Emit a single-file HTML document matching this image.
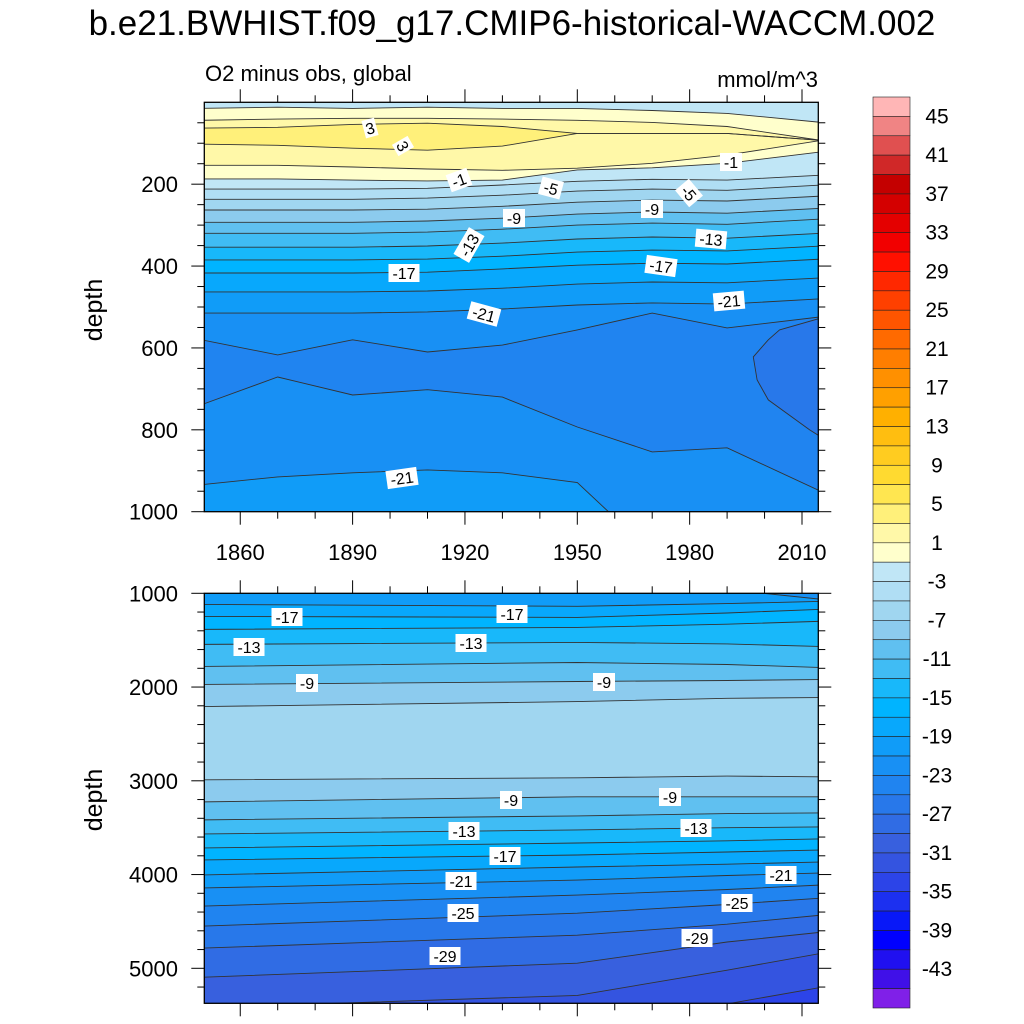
<!DOCTYPE html>
<html><head><meta charset="utf-8"><style>
html,body{margin:0;padding:0;background:#fff;}
svg{display:block;font-family:"Liberation Sans",sans-serif;}
</style></head><body>
<svg id="chart" width="1024" height="1024" viewBox="0 0 1024 1024" xmlns="http://www.w3.org/2000/svg">
<text x="512" y="35" font-size="35" text-anchor="middle">b.e21.BWHIST.f09_g17.CMIP6-historical-WACCM.002</text>
<text x="205" y="81" font-size="22">O2 minus obs, global</text>
<text x="818" y="87" font-size="22" text-anchor="end">mmol/m^3</text>
<text x="0" y="0" font-size="25" text-anchor="middle" transform="translate(102,310) rotate(-90)">depth</text>
<text x="0" y="0" font-size="25" text-anchor="middle" transform="translate(102,800) rotate(-90)">depth</text>
<defs>
<clipPath id="clipTop"><rect x="204.3" y="102.3" width="614" height="409.4"/></clipPath>
<clipPath id="clipBot"><rect x="204.3" y="593.3" width="614" height="410"/></clipPath>
</defs>
<g id="topPanel" clip-path="url(#clipTop)"></g>
<g id="botPanel" clip-path="url(#clipBot)"></g>
<g id="axes"></g>
<g id="labels"></g>
<g id="colorbar"></g>
</svg>
<script>
// ---- colour bins (top to bottom of colorbar) ----
const binColors = ["#ffb6b6","#f08484","#e05050","#d02828","#c40000","#d40000","#e40000","#f20000","#ff1000","#ff2800","#ff4000","#ff5500","#ff6a00","#ff7e00","#ff9000","#ffa000","#ffb000","#ffbe10","#ffcc20","#ffda30","#ffe650","#fff07a","#fff8a8","#ffffcc",
"#c0e6f6","#b0def4","#a0d6f0","#8ccbee","#60c0f0","#40bcf4","#18b8fa","#00b4ff","#08a8fc","#109cf8","#1890f4","#2084f0","#2878ea","#306ce4","#3860de","#3454e0","#2c44e8","#1c30f0","#0818f8","#0000ff","#2010f0","#4010e8","#8020e8"];
const cbarLabels = ["45","41","37","33","29","25","21","17","13","9","5","1","-3","-7","-11","-15","-19","-23","-27","-31","-35","-39","-43"];

// ---- top panel (0-1000 m) contour depths per year ----
const topYears = [1850,1870,1890,1910,1930,1950,1970,1990,2014];
const topTopBin = 24;
const topLevels = ["-1","1","3","3","1","-1","-3","-5","-7","-9","-11","-13","-15","-17","-19","-21","-23","-23","-21"];
const topBinBelow = [23,22,21,22,23,24,25,26,27,28,29,30,31,32,33,34,35,34,33];
const topLineM1a = [15,12,15,12,15,15,20,27,49];
const topLineP1a = [44,41,39,39,41,44,49,59,93];
const topLineP3a = [63,61,54,51,59,76,76,76,93];
const topLineP3b = [102,105,112,117,107,76,76,76,93];
const topLineP1b = [154,154,158,163,166,161,149,129,93];
const topLineM1 = [187,187,190,192,190,165,160,149,121];
const topLineM3 = [212,212,212,210,202,193,188,190,178];
const topLineM5 = [237,237,237,234,227,217,212,215,202];
const topLineM7 = [263,263,263,261,254,244,239,241,229];
const topLineM9 = [293,293,293,290,283,273,268,271,259];
const topLineM11 = [320,320,320,317,310,300,295,298,285];
const topLineM13 = [354,354,354,351,344,334,329,332,320];
const topLineM15 = [385,385,385,383,376,366,361,363,351];
const topLineM17 = [417,417,417,415,407,398,393,395,383];
const topLineM19 = [463,463,463,461,454,444,439,441,429];
const topLineM21 = [515,515,515,512,505,495,490,493,480];
const topLineM23a = [580,617,580,610,593,556,515,551,524];
const topLineM23b = [739,671,715,702,720,793,854,844,951];
const topLineM21b = [934,915,905,898,905,929,1100,1100,1100];
const topLines = [topLineM1a,topLineP1a,topLineP3a,topLineP3b,topLineP1b,topLineM1,topLineM3,topLineM5,topLineM7,topLineM9,topLineM11,topLineM13,topLineM15,topLineM17,topLineM19,topLineM21,topLineM23a,topLineM23b,topLineM21b];
// closed -25 region at right
const regionYears = [2004,2001,1997,1998,2001,2012,2015,2015];
const regionDepths = [556,580,622,678,727,800,817,527];
const regionBin = 36;

// ---- bottom panel (1000-5374 m) ----
const botYears = [1850,1950,1990,2014];
const botTopBin = 34;
const botLevels = ["-21","-19","-17","-15","-13","-11","-9","-7","-7","-9","-11","-13","-15","-17","-19","-21","-23","-25","-27","-29","-31","-33"];
const botBinBelow = [33,32,31,30,29,28,27,26,27,28,29,30,31,32,33,34,35,36,37,38,39,40];
const botLines = [
 [900,900,960,1064],
 [1118,1139,1110,1086],
 [1246,1257,1210,1171],
 [1385,1364,1330,1299],
 [1545,1524,1540,1567],
 [1781,1738,1760,1791],
 [1973,1941,1930,1920],
 [2209,2155,2120,2112],
 [2989,2968,2950,2957],
 [3225,3171,3171,3171],
 [3417,3374,3350,3342],
 [3567,3524,3500,3492],
 [3717,3663,3640,3620],
 [3845,3791,3760,3738],
 [4005,3920,3890,3866],
 [4144,4059,4010,3984],
 [4337,4219,4160,4112],
 [4551,4412,4320,4251],
 [4786,4647,4530,4433],
 [5096,4946,4720,4615],
 [5420,5289,5020,4840],
 [5700,5500,5380,5203]
];

// ---- ticks ----
const xTickYears = [1860,1890,1920,1950,1980,2010];
const topDepthTicks = [200,400,600,800,1000];
const botDepthTicks = [1000,2000,3000,4000,5000];

// ---- contour label annotations [text, x, y, angle] ----
const contourLabels = [
 ["3",370,128,-15],["3",403,146,60],["-1",459,180,-20],["-5",551,188,15],["-1",731,162,0],["-5",689,193,50],
 ["-9",514,218,0],["-9",652,209,0],["-13",469,245,-60],["-13",711,239,5],["-17",404,273,0],["-17",661,266,8],
 ["-21",484,314,15],["-21",729,301,-5],["-21",402,478,-8],
 ["-17",287,617,0],["-17",512,614,0],["-13",249,647,0],["-13",471,643,0],["-9",307,683,0],["-9",604,682,0],
 ["-9",511,800,0],["-9",670,797,0],["-13",464,831,0],["-13",696,828,0],["-17",505,856,0],["-21",461,881,0],
 ["-21",781,875,0],["-25",463,913,0],["-25",737,903,0],["-29",445,956,0],["-29",697,938,0]
];

const NS="http://www.w3.org/2000/svg";
const X0=204.3, X1=818.3, Y0T=102.3, Y1T=511.7, Y0B=593.3, Y1B=1003.3;
function xScale(yr){ return X0 + (yr-1850.4)*3.745; }
function yTop(d){ return Y0T + d*0.4094; }
function yBot(d){ return Y0B + (d-1000)*0.09375; }
function mk(tag, attrs, parent){ const e=document.createElementNS(NS,tag); for(const k in attrs) e.setAttribute(k,attrs[k]); parent.appendChild(e); return e; }

function drawPanel(g, years, lines, bins, topBin, levels, yfun, yTopPx, yBotPx, prefix){
  const bg = mk('rect',{x:X0-5,y:yTopPx-5,width:X1-X0+10,height:yBotPx-yTopPx+10,fill:binColors[topBin]},g);
  
  
  const xs = years.map(xScale);
  xs[0]=Math.min(xs[0],X0-3); xs[xs.length-1]=Math.max(xs[xs.length-1],X1+3);
  lines.forEach((ln,i)=>{
    let pts = ln.map((d,j)=>xs[j].toFixed(1)+','+yfun(d).toFixed(1)).join(' ');
    pts += ' '+xs[xs.length-1].toFixed(1)+','+(yBotPx+20)+' '+xs[0].toFixed(1)+','+(yBotPx+20);
    const p = mk('polygon',{points:pts,fill:binColors[bins[i]]},g);
    
    
  });
  return xs;
}
function strokePanel(g, xs, lines, yfun, levels, prefix){
  lines.forEach((ln,i)=>{
    const pts = ln.map((d,j)=>xs[j].toFixed(1)+','+yfun(d).toFixed(1)).join(' ');
    const l = mk('polyline',{points:pts,fill:'none',stroke:'#333',"stroke-width":0.9},g);
    
    
  });
}

const topG=document.getElementById('topPanel');
const xsT = drawPanel(topG, topYears, topLines, topBinBelow, topTopBin, topLevels, yTop, Y0T, Y1T, 'top');
const reg = mk('polygon',{points:regionYears.map((yr,i)=>xScale(yr).toFixed(1)+','+yTop(regionDepths[i]).toFixed(1)).join(' '),fill:binColors[regionBin],stroke:'#333',"stroke-width":0.9},topG);


strokePanel(topG, xsT, topLines, yTop, topLevels, 'top');

const botG=document.getElementById('botPanel');
const xsB = drawPanel(botG, botYears, botLines, botBinBelow, botTopBin, botLevels, yBot, Y0B, Y1B, 'bottom');
strokePanel(botG, xsB, botLines, yBot, botLevels, 'bottom');

// ---- axes ----
const ax=document.getElementById('axes');
function frame(y0,y1,name){
  const r=mk('rect',{x:X0,y:y0,width:X1-X0,height:y1-y0,fill:'none',stroke:'#000',"stroke-width":1.3},ax);
  
  
}
frame(Y0T,Y1T,'top-plot-frame');
frame(Y0B,Y1B,'bottom-plot-frame');
function line(x1,y1,x2,y2,w){ const l=mk('line',{x1:x1,y1:y1,x2:x2,y2:y2,stroke:'#000',"stroke-width":w||1},ax);   }
for(let yr=1860; yr<=2014; yr+=10){
  const x=xScale(yr); const major = xTickYears.includes(yr); const L = major?13:7;
  line(x,Y0T,x,Y0T-L); line(x,Y1T,x,Y1T+L); line(x,Y0B,x,Y0B-L); line(x,Y1B,x,Y1B+L);
}
xTickYears.forEach(yr=>{
  const t=mk('text',{x:xScale(yr),y:560,"font-size":22,"text-anchor":"middle"},ax);
  t.textContent=yr;
  
  
});
for(let d=50; d<=1000; d+=50){
  const y=yTop(d); const major=topDepthTicks.includes(d); const L=major?13:7;
  line(X0,y,X0-L,y); line(X1,y,X1+L,y);
}
topDepthTicks.forEach(d=>{
  const t=mk('text',{x:178,y:yTop(d)+8,"font-size":22,"text-anchor":"end"},ax);
  t.textContent=d;
  
  
});
for(let d=1000; d<=5300; d+=200){
  const y=yBot(d); const major=botDepthTicks.includes(d); const L=major?13:7;
  line(X0,y,X0-L,y); line(X1,y,X1+L,y);
}
botDepthTicks.forEach(d=>{
  const t=mk('text',{x:178,y:yBot(d)+8,"font-size":22,"text-anchor":"end"},ax);
  t.textContent=d;
  
  
});

// ---- contour labels ----
const lg=document.getElementById('labels');
contourLabels.forEach(c=>{
  const g=mk('g',{transform:'translate('+c[1]+','+c[2]+') rotate('+c[3]+')'},lg);
  
  
  const w=c[0].length*9+4;
  mk('rect',{x:-w/2,y:-9,width:w,height:18,fill:'#fff'},g);
  const t=mk('text',{x:0,y:6,"font-size":16,"text-anchor":"middle"},g);
  t.textContent=c[0];
});

// ---- colorbar ----
const cb=document.getElementById('colorbar');
const CB_X=873, CB_W=37, CB_Y0=97, CB_Y1=1008;
const bh=(CB_Y1-CB_Y0)/binColors.length;
binColors.forEach((c,i)=>{
  const r=mk('rect',{x:CB_X,y:CB_Y0+i*bh,width:CB_W,height:bh,fill:c,stroke:'#222',"stroke-width":0.6},cb);
  
  
});
cbarLabels.forEach((s,i)=>{
  const y=CB_Y0+(1+2*i)*bh;
  const t=mk('text',{x:937,y:y+7,"font-size":21,"text-anchor":"middle"},cb);
  t.textContent=s;
  
  
});
</script>
</body></html>
